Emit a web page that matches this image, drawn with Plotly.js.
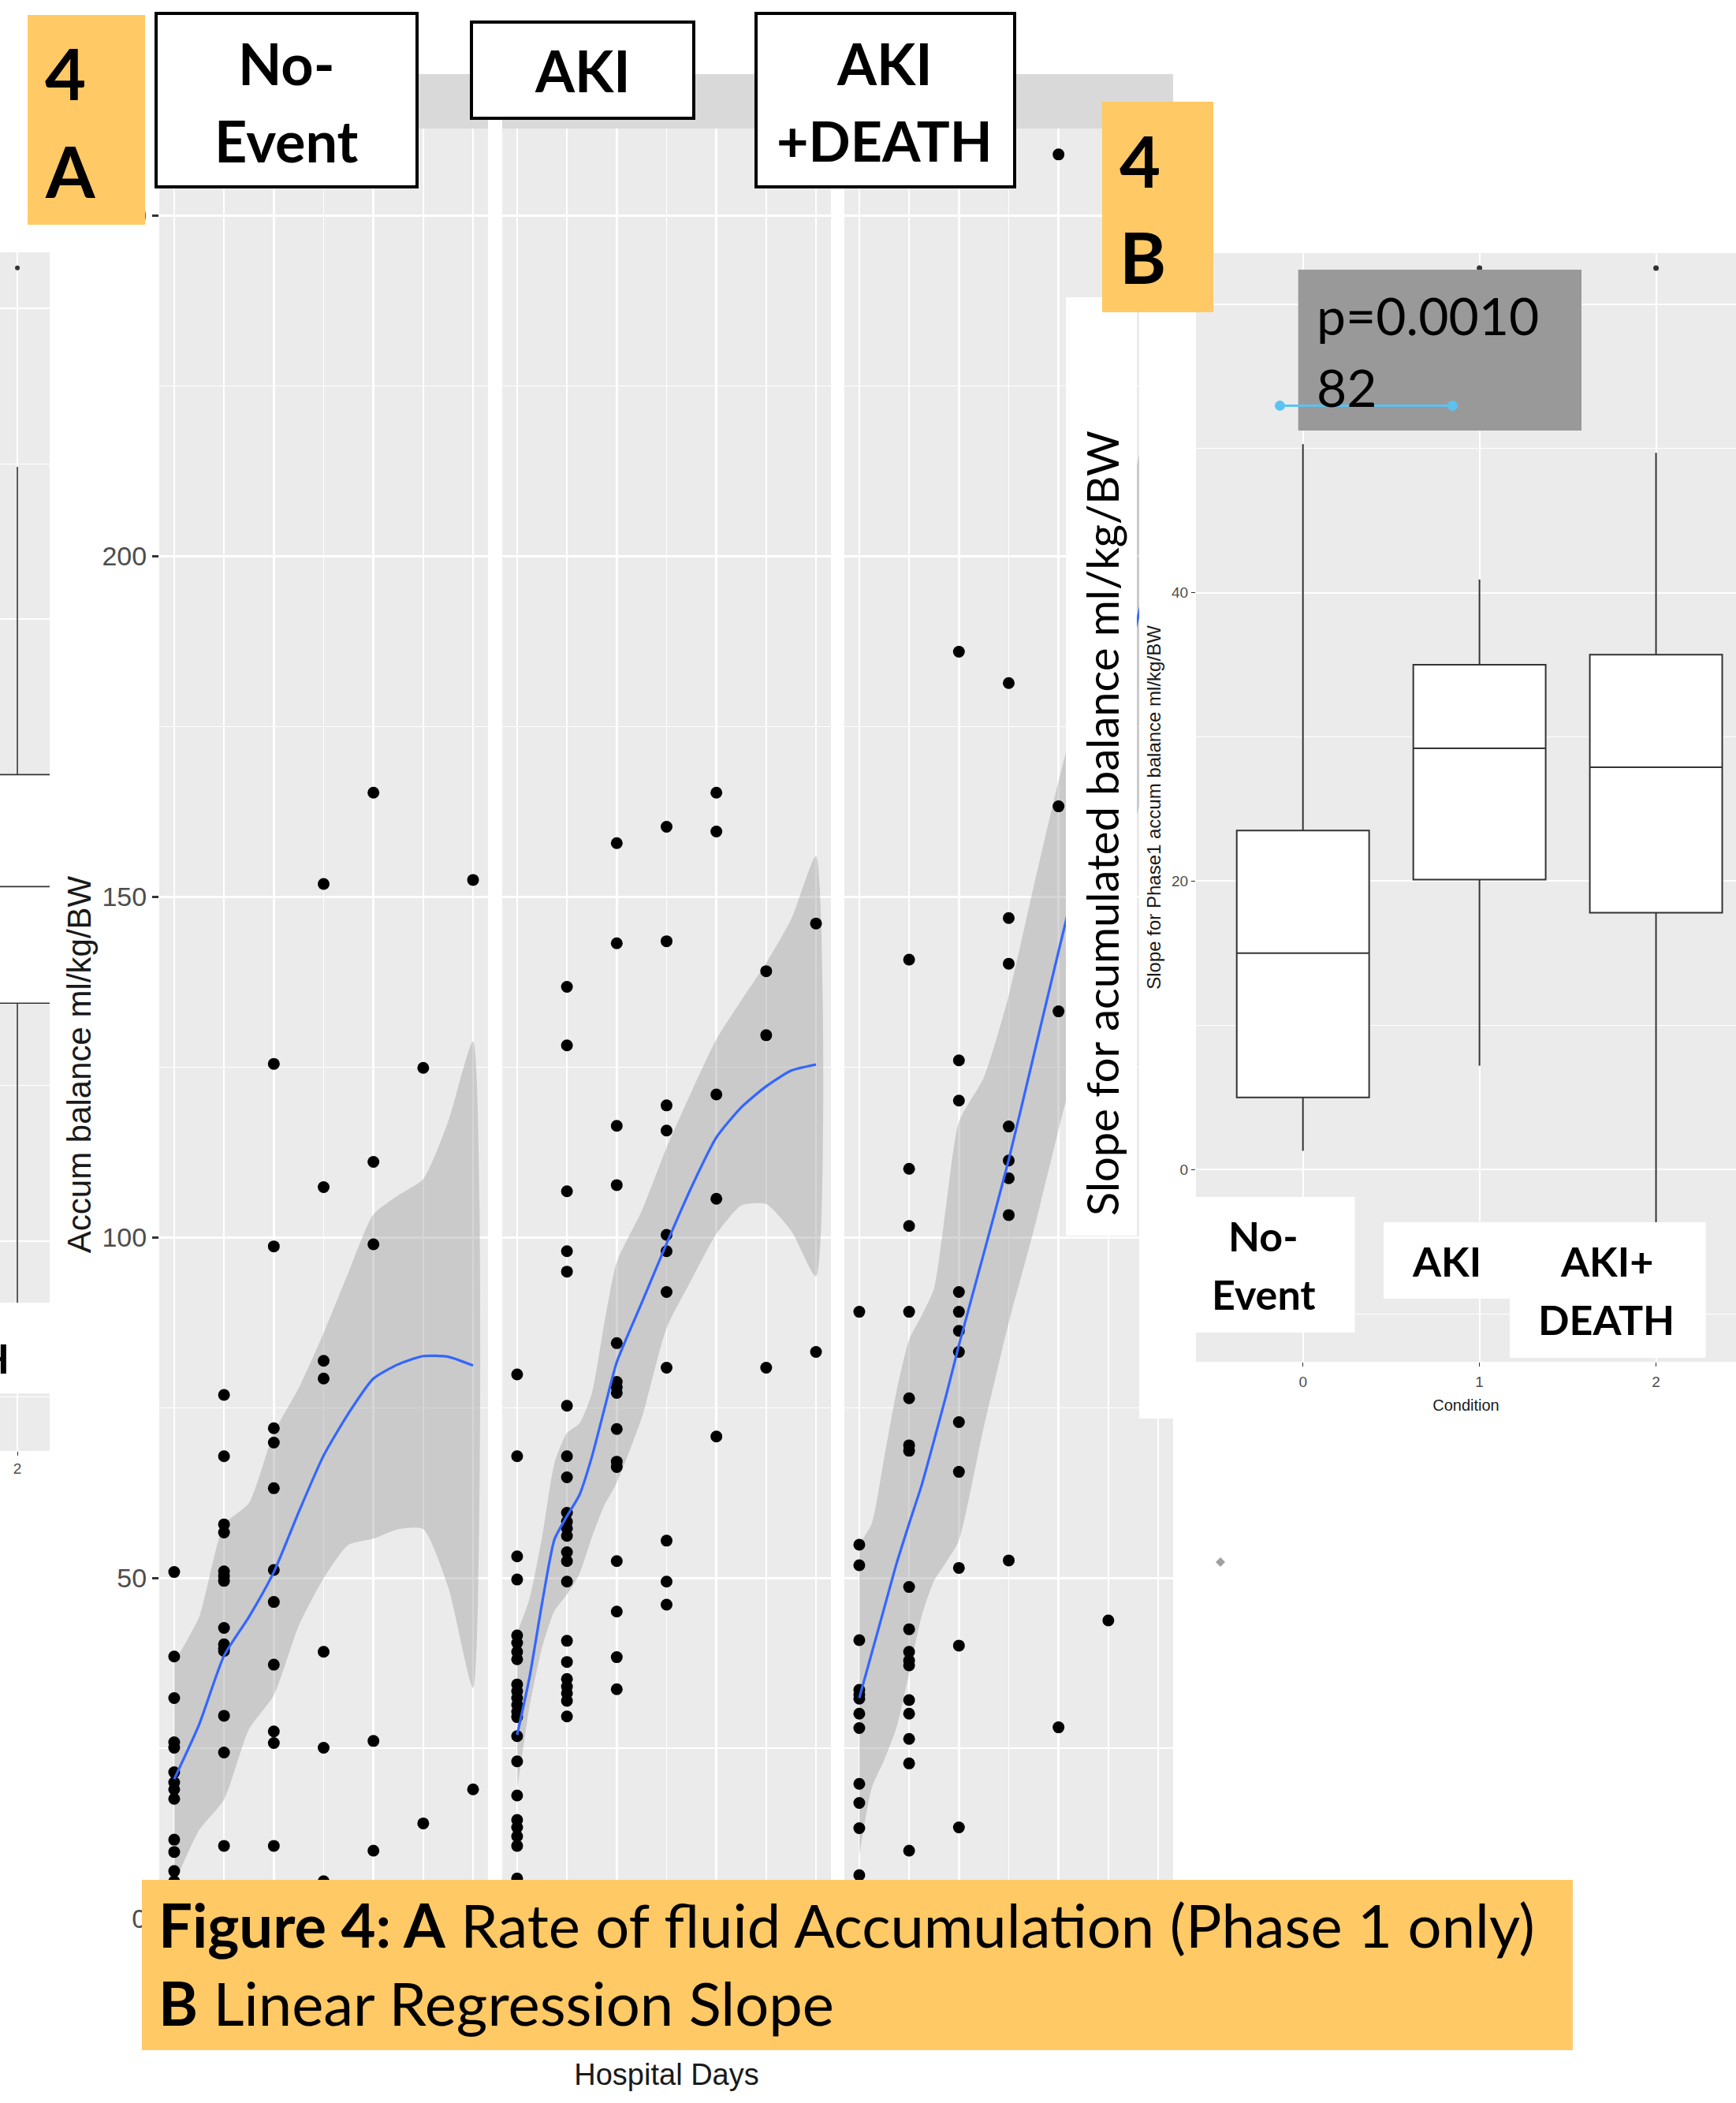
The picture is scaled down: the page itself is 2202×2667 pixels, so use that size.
<!DOCTYPE html>
<html><head><meta charset="utf-8">
<script src="https://cdn.plot.ly/plotly-3.0.1.min.js"></script>
<style>
html,body{margin:0;padding:0;background:#fff;overflow:hidden;}
#chartA{position:absolute;left:0;top:0;width:2202px;height:2667px;}
#chartB{position:absolute;left:1398px;top:129px;width:804px;height:1670px;}
</style></head><body>
<div id="chartA"></div><div id="chartB"></div>
<script>
// ---------------- DATA: Figure 4A (facets) ----------------
const facetNames = ['No-Event', 'AKI', 'AKI +DEATH'];
const hospitalDays = [0, 1, 2, 3, 4, 5, 6];
const noEventByDay = [
  [50.9, 38.5, 32.4, 25.9, 25.1, 21.5, 20.0, 19.0, 17.6, 11.6, 9.8, 7.0, 5.5, 3.0],
  [76.9, 67.9, 57.9, 56.7, 51.0, 50.3, 49.6, 42.7, 40.3, 39.7, 39.3, 29.8, 24.4, 10.7],
  [125.5, 98.7, 72.0, 69.9, 63.2, 51.2, 46.5, 37.3, 27.5, 25.8, 10.7],
  [151.9, 107.4, 81.9, 79.3, 39.2, 25.1, 5.5],
  [165.3, 111.1, 99.0, 26.1, 10.0],
  [124.9, 14.0],
  [152.5, 19.0]
];
const akiByDay = [
  [79.9, 67.9, 53.2, 49.8, 41.6, 40.5, 39.2, 38.1, 34.4, 33.4, 32.4, 31.4, 30.4, 29.6, 26.8, 23.1, 18.1, 14.5, 13.4, 12.1, 10.7, 5.9],
  [136.8, 128.2, 106.8, 98.0, 95.0, 75.3, 67.9, 64.8, 59.6, 58.3, 57.3, 56.2, 53.8, 52.5, 49.5, 40.8, 37.7, 35.2, 34.1, 33.1, 32.0, 29.7],
  [157.9, 143.2, 116.4, 107.7, 84.5, 78.8, 78.0, 77.2, 71.9, 67.1, 66.3, 52.5, 45.1, 38.4, 33.7],
  [160.3, 143.5, 119.4, 115.7, 100.4, 98.0, 92.0, 80.9, 55.5, 49.5, 46.1],
  [165.3, 159.6, 121.0, 105.7, 70.8],
  [139.1, 129.7, 80.9],
  [146.1, 83.2]
];
const akiDeathByDay = [
  [89.1, 54.9, 51.9, 40.9, 33.6, 32.9, 32.3, 30.1, 28.0, 19.8, 17.0, 13.3, 6.4],
  [140.8, 110.1, 101.7, 89.1, 76.4, 69.5, 68.7, 48.7, 42.5, 39.2, 37.9, 37.2, 32.1, 30.1, 26.4, 22.8, 10.0],
  [186.0, 126.0, 120.1, 92.0, 89.1, 86.3, 83.2, 72.9, 65.6, 51.5, 40.1, 13.4],
  [181.4, 146.9, 140.2, 116.3, 111.3, 108.7, 103.3, 52.6],
  [259.0, 163.3, 133.2, 28.1],
  [43.8],
  []
];
// smoother (loess) curves and confidence band
const noEventSmoothDays = [0, 0.5, 1, 1.5, 2, 2.5, 3, 3.5, 4, 4.5, 5, 5.5, 6];
const noEventFit   = [20.5, 28.5, 38.6, 44.3, 50.9, 59.7, 68.0, 74.2, 79.3, 81.4, 82.6, 82.5, 81.2];
const noEventUpper = [37.6, 44.3, 57.8, 61.0, 71.3, 77.9, 86.0, 94.9, 103.4, 106.2, 108.6, 117.0, 128.8];
const noEventLower = [5.1, 13.0, 17.5, 27.8, 32.8, 43.0, 50.0, 54.9, 55.8, 57.2, 57.2, 48.7, 33.9];
const akiSmoothDays = [0, 0.25, 0.5, 0.75, 1, 1.25, 1.5, 1.75, 2, 2.5, 3, 3.5, 4, 4.5, 5, 5.5, 6];
const akiFit   = [27.0, 35.5, 46.3, 55.7, 59.1, 62.2, 67.8, 74.8, 81.7, 90.4, 99.1, 107.4, 114.7, 119.1, 122.2, 124.5, 125.4];
const akiUpper = [42.0, 47.0, 56.0, 66.9, 71.3, 72.7, 77.1, 87.4, 96.4, 103.9, 113.2, 121.4, 129.1, 134.8, 140.3, 146.7, 156.0];
const akiLower = [19.0, 31.2, 39.8, 45.2, 47.6, 50.6, 56.0, 60.7, 64.0, 73.5, 86.7, 93.8, 100.5, 104.7, 104.9, 101.0, 94.3];
const akiDeathSmoothDays = [0, 0.25, 0.5, 0.75, 1, 1.25, 1.5, 1.75, 2, 2.5, 3, 3.5, 4, 4.5, 5, 5.5, 6];
const akiDeathFit   = [32.4, 39.0, 45.6, 52.2, 58.0, 63.6, 70.2, 77.0, 84.2, 97.7, 111.4, 126.7, 142.0, 157.0, 172.0, 188.0, 204.0];
const akiDeathUpper = [55.0, 58.0, 67.7, 77.5, 85.0, 88.5, 92.5, 105.0, 117.0, 123.5, 135.5, 151.5, 167.0, 181.0, 196.0, 211.0, 226.0];
const akiDeathLower = [9.4, 19.2, 23.3, 28.1, 36.0, 44.4, 49.6, 52.4, 55.5, 72.2, 87.5, 101.0, 115.8, 130.0, 145.0, 160.0, 175.0];

// ---------------- DATA: Figure 4B (box plot) ----------------
const conditionCodes = [0, 1, 2];
const conditionTicks = ['0', '1', '2'];
const conditionNames = ['No-Event', 'AKI', 'AKI+ DEATH'];
const slopeQ1 = [5.0, 20.1, 17.8];
const slopeMedian = [15.0, 29.2, 27.9];
const slopeQ3 = [23.5, 35.0, 35.7];
const slopeLowerWhisker = [1.3, 7.2, -9.0];
const slopeUpperWhisker = [50.3, 40.9, 49.7];
const outlierCondition = [1, 2];
const outlierSlope = [62.5, 62.5];
// cropped copy of the box plot visible at the far left edge (condition 2 only)
const croppedCondition = [2];
const croppedQ1 = [15.3], croppedMedian = [22.8], croppedQ3 = [30.0];
const croppedLower = [-8.0], croppedUpper = [49.8];
const croppedOutlier = [62.6];
const pValueText = ['p=0.0010', '82'];

// ---------------- helpers ----------------
const W = 2202, H = 2667;
const fx = p => p / W, fy = p => 1 - p / H;
const GRAY = '#EBEBEB', ORANGE = '#FFC966';
const TICKFONT = {family: 'Liberation Sans, Arial, sans-serif', size: 34, color: '#4D4D4D'};

function flatten(byDay) {
  const xs = [], ys = [];
  byDay.forEach((vals, i) => vals.forEach(v => { xs.push(hospitalDays[i]); ys.push(v); }));
  return {xs, ys};
}
function rectA(x0, x1, y0, y1, fill, line, layer) {
  return {type: 'rect', xref: 'paper', yref: 'paper', x0: fx(x0), x1: fx(x1), y0: fy(y1), y1: fy(y0),
          fillcolor: fill, line: line || {width: 0}, layer: layer || 'above'};
}
function annA(text, x, y, size, opts) {
  return Object.assign({text, xref: 'paper', yref: 'paper', x: fx(x), y: fy(y), showarrow: false,
    xanchor: 'center', yanchor: 'middle',
    font: {family: 'Lato, sans-serif', size, color: '#000'}}, opts || {});
}

// ---------------- Chart A ----------------
const panels = [
  {byDay: noEventByDay, d: noEventSmoothDays, fit: noEventFit, hi: noEventUpper, lo: noEventLower},
  {byDay: akiByDay, d: akiSmoothDays, fit: akiFit, hi: akiUpper, lo: akiLower},
  {byDay: akiDeathByDay, d: akiDeathSmoothDays, fit: akiDeathFit, hi: akiDeathUpper, lo: akiDeathLower}
];
const axSuffix = ['', '2', '3'];
const tracesA = [];
panels.forEach((p, i) => {
  const xa = 'x' + axSuffix[i], ya = 'y' + axSuffix[i];
  tracesA.push({type: 'scatter', mode: 'lines', xaxis: xa, yaxis: ya,
    x: p.d.concat(p.d.slice().reverse()), y: p.hi.concat(p.lo.slice().reverse()),
    fill: 'toself', fillcolor: 'rgba(153,153,153,0.4)', line: {width: 0, shape: 'spline', smoothing: 0.6},
    hoverinfo: 'skip', showlegend: false});
  const pts = flatten(p.byDay);
  tracesA.push({type: 'scatter', mode: 'markers', xaxis: xa, yaxis: ya, x: pts.xs, y: pts.ys,
    marker: {size: 15, color: '#000'}, showlegend: false, name: facetNames[i]});
  tracesA.push({type: 'scatter', mode: 'lines', xaxis: xa, yaxis: ya, x: p.d, y: p.fit,
    line: {color: '#3366FF', width: 3.2, shape: 'spline', smoothing: 0.6}, showlegend: false});
});
// cropped box plot copy at the far left
tracesA.push({type: 'box', xaxis: 'x4', yaxis: 'y4', x: croppedCondition, q1: croppedQ1, median: croppedMedian,
  q3: croppedQ3, lowerfence: croppedLower, upperfence: croppedUpper, width: 0.75, whiskerwidth: 0,
  fillcolor: '#fff', line: {color: '#333', width: 1.6}, boxpoints: false, showlegend: false});
tracesA.push({type: 'scatter', mode: 'markers', xaxis: 'x4', yaxis: 'y4', x: croppedCondition, y: croppedOutlier,
  marker: {size: 6, color: '#333'}, showlegend: false});

const panelX = [[202, 619], [637, 1054], [1071, 1488]];
const yDom = [fy(2537), fy(163)];
const layoutA = {
  width: W, height: H, margin: {l: 0, r: 0, t: 0, b: 0}, autosize: false,
  paper_bgcolor: '#fff', plot_bgcolor: GRAY, showlegend: false,
  font: {family: 'Liberation Sans, Arial, sans-serif'},
  shapes: [], annotations: []
};
panelX.forEach((px, i) => {
  const s = axSuffix[i];
  layoutA['xaxis' + s] = {domain: [fx(px[0]), fx(px[1])], range: [-0.3, 6.3], anchor: 'y' + s,
    tick0: 0, dtick: 2, showgrid: true, gridcolor: '#fff', gridwidth: 2.6, zeroline: false,
    minor: {dtick: 1, showgrid: true, gridcolor: '#fff', gridwidth: 1.8},
    ticks: 'outside', ticklen: 8, tickwidth: 2.5, tickcolor: '#333', showticklabels: false,
    tickfont: TICKFONT, automargin: false};
  layoutA['yaxis' + s] = {domain: yDom, range: [-12, 262.8], anchor: 'x' + s,
    tick0: 0, dtick: 50, showgrid: true, gridcolor: '#fff', gridwidth: 2.6, zeroline: false,
    minor: {dtick: 25, showgrid: true, gridcolor: '#fff', gridwidth: 1.8},
    ticks: i === 0 ? 'outside' : '', ticklen: 8, tickwidth: 2.5, tickcolor: '#333',
    showticklabels: i === 0, tickfont: TICKFONT, automargin: false};
  // facet strip
  layoutA.shapes.push(rectA(px[0], px[1], 94, 163, '#D9D9D9', null, 'below'));
});
layoutA.yaxis.title = {text: 'Accum balance ml/kg/BW', standoff: 0,
  font: {family: 'Liberation Sans, Arial, sans-serif', size: 42, color: '#1a1a1a'}};
layoutA.xaxis2.title = {text: 'Hospital Days', standoff: 72,
  font: {family: 'Liberation Sans, Arial, sans-serif', size: 38, color: '#1a1a1a'}};
// cropped copy axes
layoutA.xaxis4 = {domain: [0, fx(63)], range: [1.853, 2.273], anchor: 'y4', tickvals: croppedCondition,
  ticktext: ['2'], showgrid: true, gridcolor: '#fff', gridwidth: 2, zeroline: false, ticks: 'outside',
  ticklen: 5, tickcolor: '#333', tickfont: {size: 19, color: '#4D4D4D'}, automargin: false};
layoutA.yaxis4 = {domain: [fy(1840), fy(320)], range: [-13.5, 63.6], anchor: 'x4', tick0: 0, dtick: 20,
  showgrid: true, gridcolor: '#fff', gridwidth: 2, zeroline: false, showticklabels: false, ticks: '',
  minor: {dtick: 10, showgrid: true, gridcolor: '#fff', gridwidth: 1}, automargin: false};

// decorations over chart A
const blackLine = {color: '#000', width: 4};
layoutA.shapes.push(rectA(198, 529, 17, 237, '#fff', blackLine));
layoutA.shapes.push(rectA(598, 880, 28, 150, '#fff', blackLine));
layoutA.shapes.push(rectA(959, 1287, 17, 237, '#fff', blackLine));
layoutA.shapes.push(rectA(35, 184, 19, 285, ORANGE));
layoutA.shapes.push(rectA(1352, 1442, 377, 1567, '#fff'));
layoutA.shapes.push(rectA(180, 1995, 2384, 2600, ORANGE));
layoutA.shapes.push(rectA(0, 63, 1652, 1767, '#fff'));
layoutA.shapes.push({type: 'path', xref: 'paper', yref: 'paper', layer: 'above',
  path: 'M ' + fx(1548) + ',' + fy(1975) + ' L ' + fx(1554) + ',' + fy(1981) + ' L ' + fx(1548) + ',' + fy(1987) +
        ' L ' + fx(1542) + ',' + fy(1981) + ' Z', fillcolor: '#A0A0A0', line: {width: 0}});

const B72 = 72;
layoutA.annotations.push(annA('<b>No-</b>', 363.6, 80, B72));
layoutA.annotations.push(annA('<b>Event</b>', 363.6, 178, B72));
layoutA.annotations.push(annA('<b>AKI</b>', 739, 89, B72));
layoutA.annotations.push(annA('<b>AKI</b>', 1121.5, 80, B72));
layoutA.annotations.push(annA('<b>+DEATH</b>', 1121.5, 178, 70));
layoutA.annotations.push(annA('<b>4</b>', 55, 92, 90, {xanchor: 'left'}));
layoutA.annotations.push(annA('<b>A</b>', 55, 216, 90, {xanchor: 'left'}));
layoutA.annotations.push(annA('Slope for acumulated balance ml/kg/BW', 1397, 1044, 56, {textangle: -90}));
layoutA.annotations.push(annA('<b>Figure 4: A</b> Rate of fluid Accumulation (Phase 1 only)', 199, 2440, 76, {xanchor: 'left'}));
layoutA.annotations.push(annA('<b>B</b> Linear Regression Slope', 199, 2539, 76, {xanchor: 'left'}));
layoutA.annotations.push(annA('<b>DEATH</b>', 14, 1722, 52, {xanchor: 'right'}));

Plotly.newPlot('chartA', tracesA, layoutA, {staticPlot: true, displayModeBar: false});

// ---------------- Chart B ----------------
const X0 = 1398, Y0 = 129, BW = 804, BH = 1670;
const bx = p => (p - X0) / BW, by = p => 1 - (p - Y0) / BH;
function rectB(x0, x1, y0, y1, fill, layer) {
  return {type: 'rect', xref: 'paper', yref: 'paper', x0: bx(x0), x1: bx(x1), y0: by(y1), y1: by(y0),
          fillcolor: fill, line: {width: 0}, layer: layer || 'above'};
}
function annB(text, x, y, size, opts) {
  return Object.assign({text, xref: 'paper', yref: 'paper', x: bx(x), y: by(y), showarrow: false,
    xanchor: 'center', yanchor: 'middle',
    font: {family: 'Lato, sans-serif', size, color: '#000'}}, opts || {});
}
const tracesB = [
  {type: 'box', x: conditionCodes, q1: slopeQ1, median: slopeMedian, q3: slopeQ3,
   lowerfence: slopeLowerWhisker, upperfence: slopeUpperWhisker, width: 0.75, whiskerwidth: 0,
   fillcolor: '#fff', line: {color: '#333', width: 2}, boxpoints: false, showlegend: false},
  {type: 'scatter', mode: 'markers', x: outlierCondition, y: outlierSlope,
   marker: {size: 7, color: '#333'}, showlegend: false}
];
const blue = '#5BC3F1';
const layoutB = {
  width: BW, height: BH, margin: {l: 0, r: 0, t: 0, b: 0}, autosize: false,
  paper_bgcolor: 'rgba(0,0,0,0)', plot_bgcolor: 'rgba(0,0,0,0)', showlegend: false,
  font: {family: 'Liberation Sans, Arial, sans-serif'},
  xaxis: {domain: [bx(1517), 1], range: [-0.606, 2.453], tickvals: conditionCodes, ticktext: conditionTicks,
    showgrid: true, gridcolor: '#fff', gridwidth: 2, zeroline: false, ticks: 'outside', ticklen: 5,
    tickcolor: '#333', tickfont: {size: 19, color: '#4D4D4D'}, ticklabelstandoff: 3, automargin: false,
    title: {text: 'Condition', standoff: 13, font: {size: 20, color: '#1a1a1a'}}},
  yaxis: {domain: [by(1727), by(321)], range: [-13.33, 63.54], tick0: 0, dtick: 20,
    showgrid: true, gridcolor: '#fff', gridwidth: 2, zeroline: false,
    minor: {dtick: 10, showgrid: true, gridcolor: '#fff', gridwidth: 1},
    ticks: 'outside', ticklen: 5, tickcolor: '#333', tickfont: {size: 19, color: '#4D4D4D'}, automargin: false,
    title: {text: 'Slope for Phase1 accum balance ml/kg/BW', standoff: 6, font: {size: 24, color: '#1a1a1a'}}},
  shapes: [
    rectB(1445, 2202, 320, 1799, '#fff', 'below'),
    rectB(1517, 2202, 321, 1727, GRAY, 'below'),
    rectB(1646.7, 2006, 342, 546, '#999999'),
    {type: 'line', xref: 'paper', yref: 'paper', x0: bx(1623.4), x1: bx(1842.4), y0: by(514.5), y1: by(514.5),
     line: {color: blue, width: 3}, layer: 'above'},
    {type: 'circle', xref: 'paper', yref: 'paper', x0: bx(1617), x1: bx(1630), y0: by(521), y1: by(508),
     fillcolor: blue, line: {width: 0}, layer: 'above'},
    {type: 'circle', xref: 'paper', yref: 'paper', x0: bx(1836), x1: bx(1849), y0: by(521), y1: by(508),
     fillcolor: blue, line: {width: 0}, layer: 'above'},
    rectB(1517, 1718.5, 1518, 1690, '#fff'),
    rectB(1755, 1915, 1550, 1647, '#fff'),
    rectB(1915, 2163.6, 1550, 1722, '#fff'),
    rectB(1398, 1539, 129, 396, ORANGE)
  ],
  annotations: [
    annB(pValueText[0], 1668, 400, 66, {xanchor: 'left'}),
    annB(pValueText[1], 1668, 490, 66, {xanchor: 'left'}),
    annB('<b>No-</b>', 1602.7, 1567, 52),
    annB('<b>Event</b>', 1602.7, 1641, 52),
    annB('<b>AKI</b>', 1835, 1599, 52),
    annB('<b>AKI+</b>', 2037.5, 1599, 52),
    annB('<b>DEATH</b>', 2037.5, 1673, 52),
    annB('<b>4</b>', 1418, 203, 90, {xanchor: 'left'}),
    annB('<b>B</b>', 1418, 325, 90, {xanchor: 'left'})
  ]
};
Plotly.newPlot('chartB', tracesB, layoutB, {staticPlot: true, displayModeBar: false});
</script></body></html>
